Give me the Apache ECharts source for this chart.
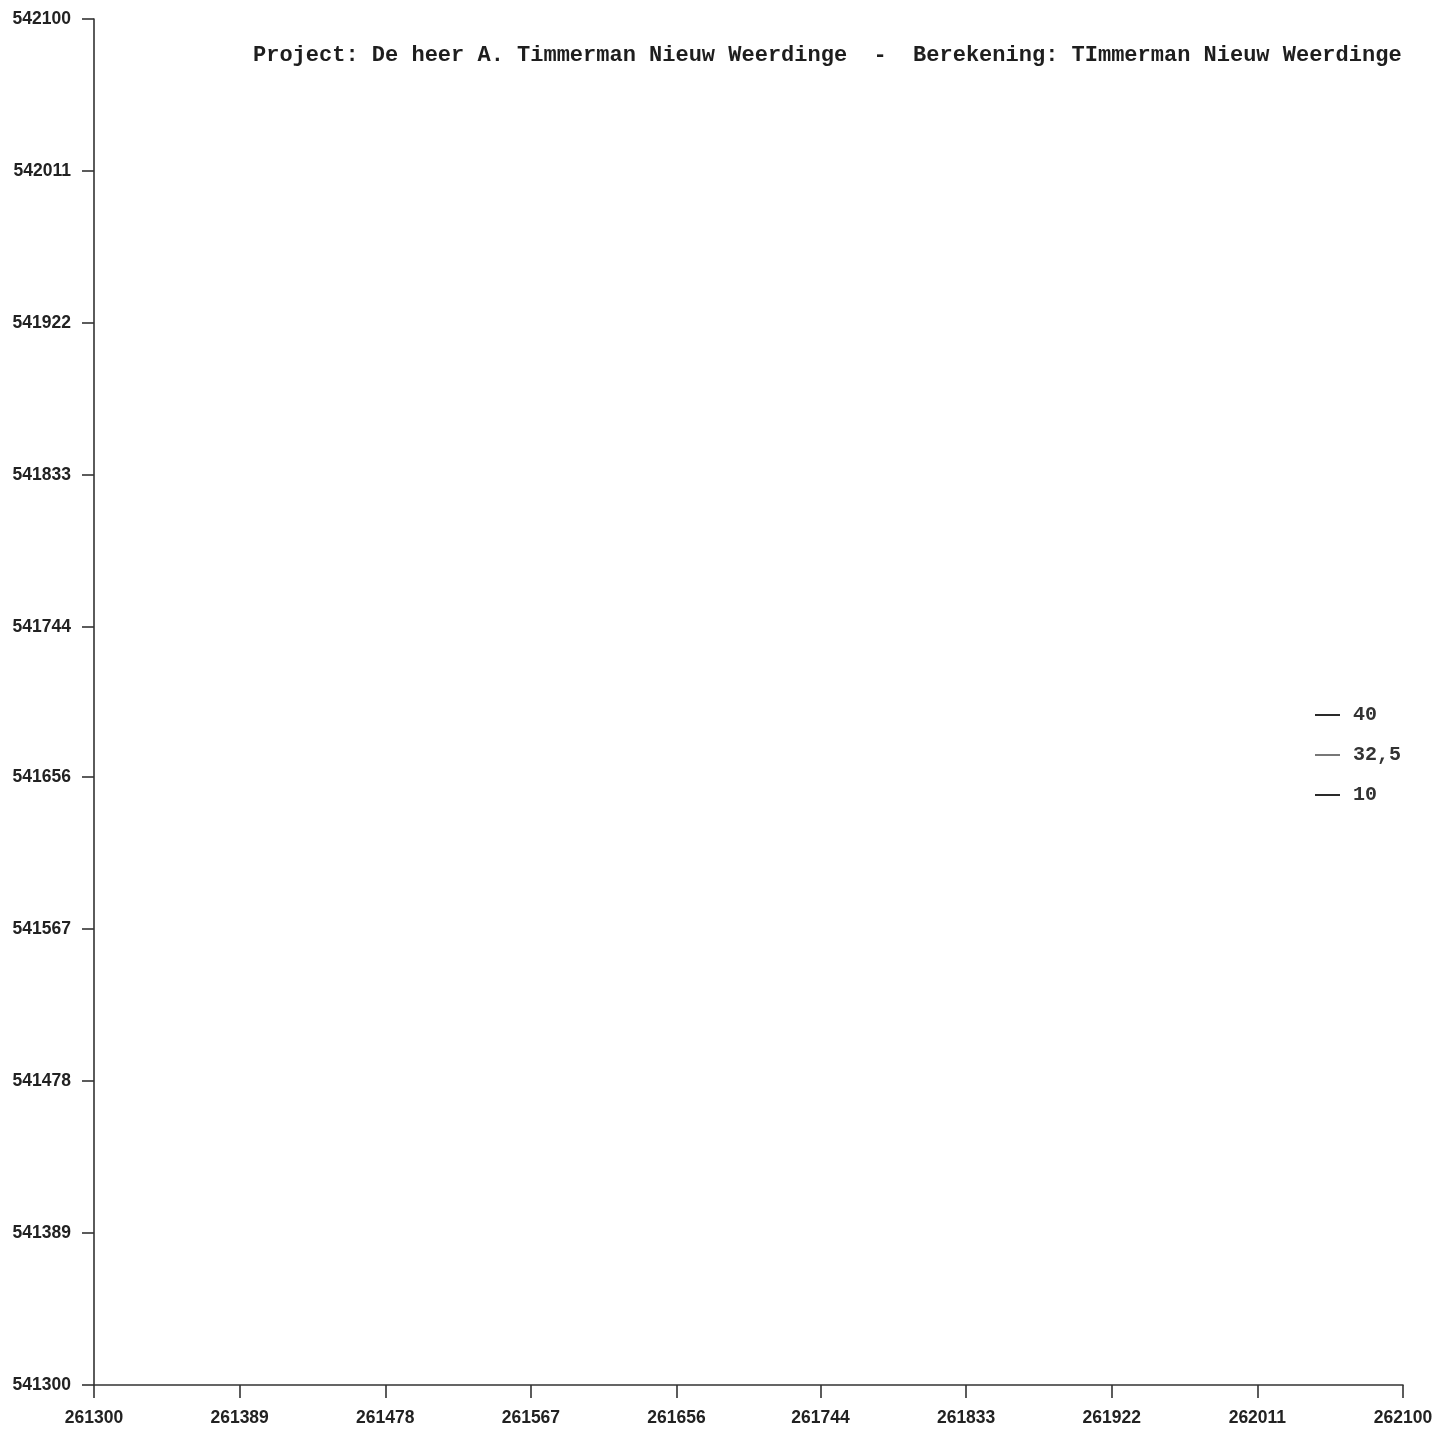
<!DOCTYPE html>
<html>
<head>
<meta charset="utf-8">
<script src="https://cdn.jsdelivr.net/npm/echarts@6/dist/echarts.min.js"></script>
<style>
html,body{margin:0;padding:0;background:#fff;}
#chart{width:1449px;height:1430px;}
</style>
</head>
<body>
<div id="chart"></div>
<script>
const titleText = 'Project: De heer A. Timmerman Nieuw Weerdinge  -  Berekening: TImmerman Nieuw Weerdinge';
const xTicks = [261300, 261389, 261478, 261567, 261656, 261744, 261833, 261922, 262011, 262100];
const yTicks = [541300, 541389, 541478, 541567, 541656, 541744, 541833, 541922, 542011, 542100];
const contourLevels = ['40', '32,5', '10'];
const contour40 = [];
const contour32_5 = [];
const contour10 = [];
const seriesData = [contour40, contour32_5, contour10];
const levelColors = ['#2a2a2a', '#777777', '#2a2a2a'];

const chart = echarts.init(document.getElementById('chart'));
const axisColor = '#333';
const labelFont = {color: '#222', fontFamily: 'Liberation Sans, Arial, sans-serif', fontWeight: 'bold', fontSize: 17.5};

chart.setOption({
  backgroundColor: '#fff',
  animation: false,
  title: {
    text: titleText,
    left: 248,
    top: 39,
    textStyle: {fontFamily: 'Liberation Mono, monospace', fontWeight: 'bold', fontSize: 22, color: '#1e1e1e'}
  },
  legend: {
    orient: 'vertical',
    left: 1310,
    top: 700,
    itemWidth: 25,
    itemHeight: 2,
    itemGap: 20,
    icon: 'rect',
    data: contourLevels.map((n, i) => ({name: n, itemStyle: {color: levelColors[i]}})),
    textStyle: {fontFamily: 'Liberation Mono, monospace', fontWeight: 'bold', fontSize: 20, color: '#333', padding: [0, 0, 0, 8]}
  },
  grid: {left: 94, right: 46, top: 19, bottom: 45, containLabel: false},
  xAxis: {
    type: 'value',
    min: xTicks[0],
    max: xTicks[xTicks.length - 1],
    axisLine: {onZero: false, lineStyle: {color: axisColor, width: 1.6}},
    axisTick: {length: 13, customValues: xTicks, lineStyle: {color: axisColor, width: 1.6}},
    axisLabel: Object.assign({margin: 24, customValues: xTicks, formatter: v => String(Math.round(v))}, labelFont),
    splitLine: {show: false}
  },
  yAxis: {
    type: 'value',
    min: yTicks[0],
    max: yTicks[yTicks.length - 1],
    axisLine: {show: true, onZero: false, lineStyle: {color: axisColor, width: 1.6}},
    axisTick: {show: true, length: 12, customValues: yTicks, lineStyle: {color: axisColor, width: 1.6}},
    axisLabel: Object.assign({margin: 23, customValues: yTicks, formatter: v => String(Math.round(v))}, labelFont),
    splitLine: {show: false}
  },
  series: contourLevels.map((n, i) => ({
    name: n,
    type: 'line',
    data: seriesData[i],
    showSymbol: false,
    lineStyle: {color: levelColors[i], width: 1.5},
    itemStyle: {color: levelColors[i]}
  }))
});
</script>
</body>
</html>
